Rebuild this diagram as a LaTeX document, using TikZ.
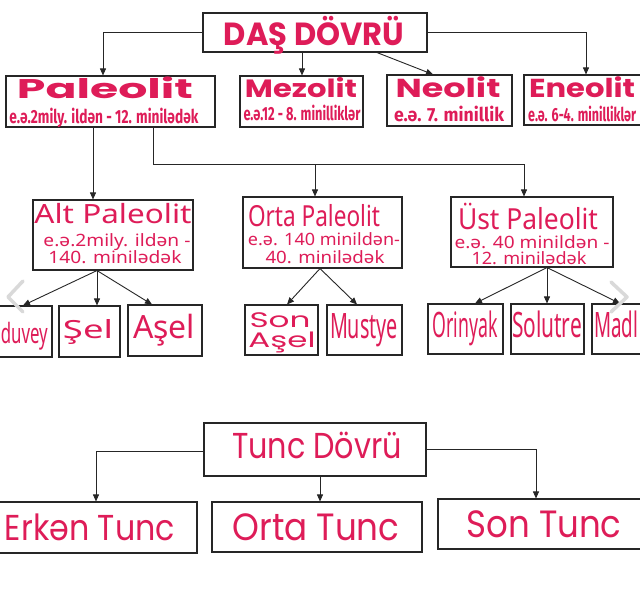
\documentclass[tikz,border=0pt]{standalone}
\usepackage{fontspec}
\usepackage{graphicx}
\usetikzlibrary{arrows.meta}
\newfontfamily\fpop{Poppins}
\newfontfamily\fira{Fira Sans}
\newfontfamily\noto{Noto Sans}
\definecolor{pk}{RGB}{222,28,88}
\newcommand\fw[2]{\resizebox{#1}{\height}{#2}}
\newcommand\fs[1]{\fontsize{#1}{#1}\selectfont}
\newcommand\bx[5]{\node[box, minimum width={#4-#2}, minimum height={#5-#3}] (#1) at ({(#2+#4)/2},{(#3+#5)/2}) {};}
\tikzset{
  box/.style={draw=black!85, line width=1.1pt, fill=white, inner sep=0pt},
  conn/.style={draw=black!85, line width=0.9pt, -{Triangle[length=7pt,width=6pt]}},
  plain/.style={draw=black!85, line width=0.9pt},
  lbl/.style={anchor=base, inner sep=0pt, text=pk},
  chev/.style={draw=gray!30, line width=3.5pt, line cap=round, line join=round}
}
\begin{document}
\begin{tikzpicture}[x=1pt,y=-1pt]
\fill[white] (0,0) rectangle (640,600);
\useasboundingbox (0,0) rectangle (640,600);
% boxes
\bx{das}{203}{13}{427}{52}
\bx{pal}{6}{76}{215}{127}
\bx{mez}{240}{76}{363}{127}
\bx{neo}{387}{75}{512}{126}
\bx{eneo}{524}{75}{650}{125}
\bx{alt}{33}{200}{193}{270}
\bx{orta}{243}{197}{402}{268}
\bx{ust}{451}{197}{613}{267}
\bx{old}{-20}{306}{52}{357}
\bx{sel}{59}{306}{120}{357}
\bx{asel}{128}{305}{202}{356}
\bx{sonasel}{245}{305}{318}{355}
\bx{must}{327}{305}{402}{355}
\bx{orin}{428}{304}{503}{354}
\bx{solu}{511}{304}{584}{354}
\bx{madl}{592}{304}{660}{354}
\bx{tunc}{204}{423}{426}{476}
\bx{erk}{-3}{502}{197}{553}
\bx{ortat}{212}{502}{422}{552}
\bx{sont}{438}{499}{660}{549}
% connectors
\draw[conn] (das.west) -| (103,0 |- pal.north);
\draw[conn] (das.east) -| (586,0 |- eneo.north);
\draw[conn] (302,0 |- das.south) -- (302,0 |- mez.north);
\draw[conn] (377,0 |- das.south) -- (433,0 |- neo.north);
\draw[conn] (93,0 |- pal.south) -- (93,0 |- alt.north);
\coordinate (bus) at (524,164);
\draw[plain] (153,0 |- pal.south) |- (bus);
\draw[conn] (315,164) -- (315,0 |- orta.north);
\draw[conn] (bus) -- (524,0 |- ust.north);
\draw[conn] (97,0 |- alt.south) -- (23,0 |- old.north);
\draw[conn] (97,0 |- alt.south) -- (97,0 |- sel.north);
\draw[conn] (97,0 |- alt.south) -- (152,0 |- asel.north);
\draw[conn] (320,0 |- orta.south) -- (287,0 |- sonasel.north);
\draw[conn] (320,0 |- orta.south) -- (357,0 |- must.north);
\draw[conn] (547,0 |- ust.south) -- (475,0 |- orin.north);
\draw[conn] (547,0 |- ust.south) -- (547,0 |- solu.north);
\draw[conn] (547,0 |- ust.south) -- (620,0 |- madl.north);
\draw[conn] (tunc.west |- 0,451) -| (96,0 |- erk.north);
\draw[conn] (320,0 |- tunc.south) -- (320,0 |- ortat.north);
\draw[conn] (tunc.east |- 0,449) -| (536,0 |- sont.north);
% texts
\node[lbl] (t1) at (314,45) {\fw{180pt}{\fpop\bfseries\fs{32}DAŞ DÖVRÜ}};
\node[lbl] (t2) at (105,98) {\fw{176pt}{\fpop\bfseries\fs{27}Paleolit}};
\node[lbl] (t3) at (104,123) {\fw{189pt}{\fira\bfseries\fs{19}e.ə.2mily. ildən - 12. minilədək}};
\node[lbl] (t4) at (301,97) {\fw{112pt}{\fpop\bfseries\fs{25}Mezolit}};
\node[lbl] (t5) at (302,120) {\fw{117pt}{\fira\bfseries\fs{19}e.ə.12 - 8. minilliklər}};
\node[lbl] (t6) at (448,97) {\fw{105pt}{\fpop\bfseries\fs{26}Neolit}};
\node[lbl] (t7) at (449,121) {\fw{110pt}{\fira\bfseries\fs{19}e.ə. 7. minillik}};
\node[lbl] (t8) at (582,97) {\fw{106pt}{\fpop\bfseries\fs{26}Eneolit}};
\node[lbl, anchor=base west] (t9) at (528,121) {\fw{108pt}{\fira\bfseries\fs{19}e.ə. 6-4. minilliklər}};
\node[lbl] (t10) at (113,223) {\fw{157pt}{\noto\fs{26.5}Alt Paleolit}};
\node[lbl] (t11) at (117,246) {\fw{147pt}{\noto\fs{17}e.ə.2mily. ildən -}};
\node[lbl] (t12) at (115,263) {\fw{133pt}{\noto\fs{17}140. minilədək}};
\node[lbl] (t13) at (314,226) {\fw{132pt}{\noto\fs{29}Orta Paleolit}};
\node[lbl] (t14) at (324,245) {\fw{152pt}{\noto\fs{17}e.ə. 140 minildən-}};
\node[lbl] (t15) at (325,263) {\fw{119pt}{\noto\fs{17}40. minilədək}};
\node[lbl] (t16) at (528,229) {\fw{140pt}{\noto\fs{29}Üst Paleolit}};
\node[lbl] (t17) at (532,248) {\fw{155pt}{\noto\fs{17}e.ə. 40 minildən -}};
\node[lbl] (t18) at (529,264) {\fw{115pt}{\noto\fs{17}12. minilədək}};
\node[lbl, anchor=base east] (t19) at (48,343) {\fw{47pt}{\noto\fs{28}duvey}};
\node[lbl] (t20) at (88,338) {\fw{50pt}{\noto\fs{25}Şel}};
\node[lbl] (t21) at (164,338) {\fw{62pt}{\noto\fs{32}Aşel}};
\node[lbl] (t22) at (280,327) {\fw{61pt}{\fpop\fs{21}Son}};
\node[lbl] (t23) at (282,347) {\fw{67pt}{\fpop\fs{21}Aşel}};
\node[lbl] (t24) at (364,338) {\fw{68pt}{\noto\fs{35}Mustye}};
\node[lbl] (t25) at (465,337) {\fw{65pt}{\noto\fs{35}Orinyak}};
\node[lbl] (t26) at (547,337) {\fw{70pt}{\noto\fs{35}Solutre}};
\node[lbl, anchor=base west] (t27) at (594,337) {\fw{44pt}{\noto\fs{35}Madl}};
\node[lbl] (t28) at (317,458) {\fw{170pt}{\fpop\fs{36}Tunc Dövrü}};
\node[lbl] (t29) at (90,540) {\fw{170pt}{\fpop\fs{36}Erkən Tunc}};
\node[lbl] (t30) at (316,540) {\fw{167pt}{\fpop\fs{38}Orta Tunc}};
\node[lbl] (t31) at (544,537) {\fw{155pt}{\fpop\fs{38}Son Tunc}};
% carousel chevrons
\draw[chev] (23,281) -- (8,297) -- (23,312);
\draw[chev] (611,282) -- (627,297) -- (611,312);
\end{tikzpicture}
\end{document}
